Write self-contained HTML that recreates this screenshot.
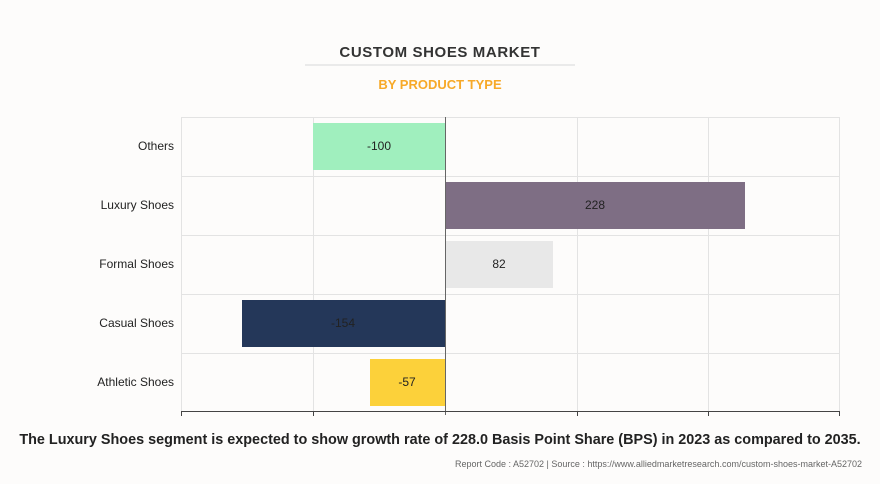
<!DOCTYPE html>
<html><head><meta charset="utf-8"><style>
html,body{margin:0;padding:0;background:#fdfcfb;}
svg{display:block;font-family:"Liberation Sans",sans-serif;}
</style></head><body>
<svg width="880" height="484" viewBox="0 0 880 484">
<rect width="880" height="484" fill="#fdfcfb"/>
<text x="440" y="57" text-anchor="middle" font-size="15" font-weight="bold" fill="#333" letter-spacing="0.6">CUSTOM SHOES MARKET</text>
<line x1="305" y1="65" x2="575" y2="65" stroke="#d8d8d8"/>
<text x="440" y="89" text-anchor="middle" font-size="13" font-weight="bold" fill="#f7a928">BY PRODUCT TYPE</text>
<g stroke="#e3e3e3" stroke-width="1">
<line x1="181.5" y1="117.5" x2="840" y2="117.5"/>
<line x1="181.5" y1="176.5" x2="840" y2="176.5"/>
<line x1="181.5" y1="235.5" x2="840" y2="235.5"/>
<line x1="181.5" y1="294.5" x2="840" y2="294.5"/>
<line x1="181.5" y1="353.5" x2="840" y2="353.5"/>
<line x1="181.5" y1="117" x2="181.5" y2="412"/>
<line x1="313.5" y1="117" x2="313.5" y2="412"/>
<line x1="577.5" y1="117" x2="577.5" y2="412"/>
<line x1="708.5" y1="117" x2="708.5" y2="412"/>
<line x1="839.5" y1="117" x2="839.5" y2="412"/>
</g>
<rect x="313" y="123" width="132" height="47" fill="#a0efbe"/>
<rect x="445" y="182" width="300" height="47" fill="#7e6e84"/>
<rect x="445" y="241" width="108" height="47" fill="#e8e8e8"/>
<rect x="242" y="300" width="203" height="47" fill="#243759"/>
<rect x="370" y="359" width="75" height="47" fill="#fcd13a"/>
<line x1="445.5" y1="117" x2="445.5" y2="415" stroke="#666"/>
<line x1="181" y1="411.5" x2="840" y2="411.5" stroke="#444"/>
<g stroke="#444"><line x1="181.5" y1="411" x2="181.5" y2="416"/><line x1="313.5" y1="411" x2="313.5" y2="416"/><line x1="577.5" y1="411" x2="577.5" y2="416"/><line x1="708.5" y1="411" x2="708.5" y2="416"/><line x1="839.5" y1="411" x2="839.5" y2="416"/></g>
<g font-size="12" fill="#222" text-anchor="middle">
<text x="379" y="150">-100</text>
<text x="595" y="209">228</text>
<text x="499" y="268">82</text>
<text x="343" y="327">-154</text>
<text x="407" y="386">-57</text>
</g>
<g font-size="12" fill="#222" text-anchor="end">
<text x="174" y="150">Others</text>
<text x="174" y="209">Luxury Shoes</text>
<text x="174" y="268">Formal Shoes</text>
<text x="174" y="327">Casual Shoes</text>
<text x="174" y="386">Athletic Shoes</text>
</g>
<text x="440" y="444" text-anchor="middle" font-size="14.4" font-weight="bold" fill="#222">The Luxury Shoes segment is expected to show growth rate of 228.0 Basis Point Share (BPS) in 2023 as compared to 2035.</text>
<text x="862" y="467" text-anchor="end" font-size="9" fill="#666">Report Code : A52702  |  Source : https://www.alliedmarketresearch.com/custom-shoes-market-A52702</text>
</svg>
</body></html>
